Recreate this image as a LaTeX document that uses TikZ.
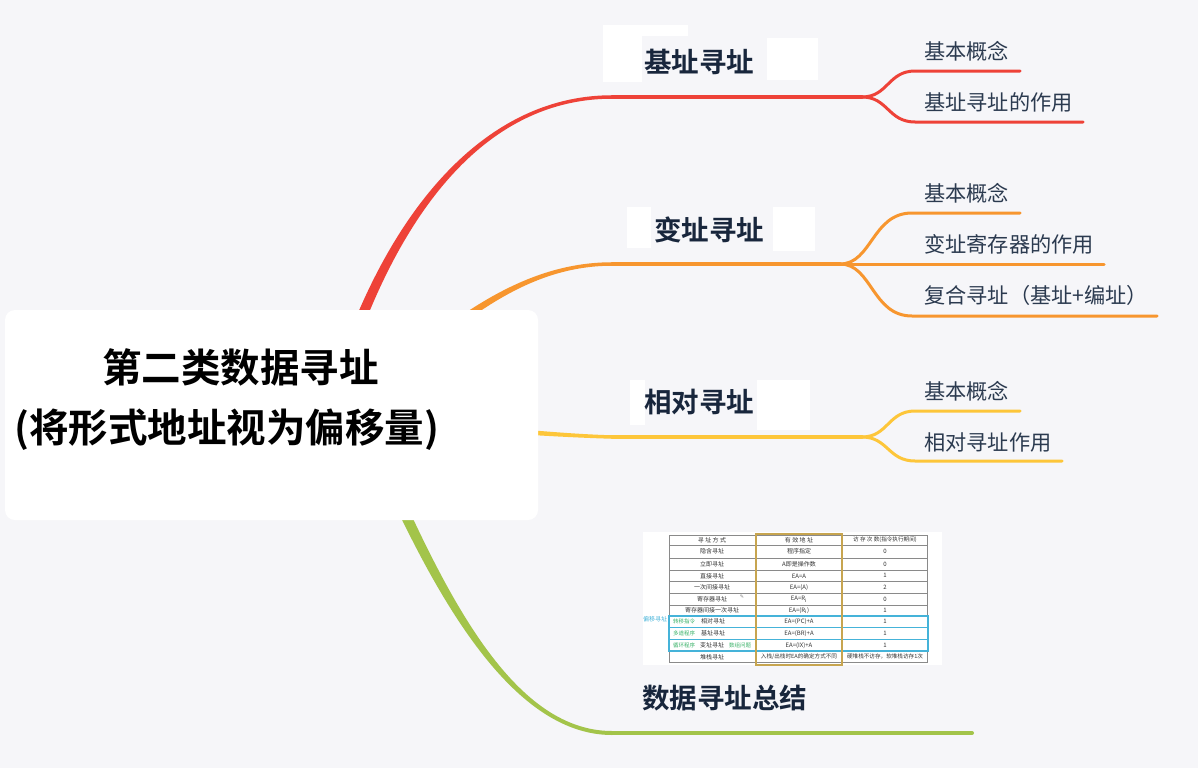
\documentclass[tikz,border=0pt]{standalone}
\usepackage{fontspec}
\setmainfont{Noto Sans CJK SC}[BoldFont={Noto Sans CJK SC Bold}]
\newfontfamily\symfont{DejaVu Sans}
\usetikzlibrary{calc}
\definecolor{bg}{HTML}{F6F6F9}
\definecolor{cred}{HTML}{EE4238}
\definecolor{corange}{HTML}{F7962F}
\definecolor{cyellow}{HTML}{FDC63A}
\definecolor{cgreen}{HTML}{A3C44A}
\definecolor{navy}{HTML}{18263C}
\definecolor{subtext}{HTML}{2B3A4F}
\definecolor{tblue}{HTML}{45B3D9}
\definecolor{tgold}{HTML}{C7A550}
\definecolor{tgreen}{HTML}{3DB36B}
\definecolor{tgrid}{HTML}{8A8A8A}
\definecolor{ttext}{HTML}{333333}
% tapered bezier: #1 colour, #2..#5 named points, #6 half width at start, #7 at end
\newcommand\mytaper[7]{\fill[#1] ($(#2)!#6!90:(#3)$) .. controls ($(#3)!#6!-90:(#2)$) and ($(#4)!#7!90:(#5)$) .. ($(#5)!#7!-90:(#4)$) -- ($(#5)!#7!90:(#4)$) .. controls ($(#4)!#7!-90:(#5)$) and ($(#3)!#6!90:(#2)$) .. ($(#2)!#6!-90:(#3)$) -- cycle;}
\begin{document}
\begin{tikzpicture}[x=1pt,y=-1pt,
  branchlabel/.style={anchor=west, inner sep=0pt, font=\fontsize{27.5}{32}\selectfont\bfseries, text=navy},
  sublabel/.style={anchor=west, inner sep=0pt, font=\fontsize{21.2}{25}\selectfont, text=subtext},
  titletext/.style={anchor=west, inner sep=0pt, font=\fontsize{39.5}{46}\selectfont\bfseries, text=black},
  mainline/.style={line width=3.5pt, line cap=round},
  subline/.style={line width=3pt, line cap=round},
  tcell/.style={inner sep=0pt, font=\fontsize{6}{7}\selectfont, text=ttext},
  tsmall/.style={inner sep=0pt, font=\fontsize{5.6}{7}\selectfont, text=ttext},
  tnote/.style={inner sep=0pt, font=\fontsize{5.5}{7}\selectfont, text=tgreen},
  patch/.style={fill=white, draw=none}]
\fill[bg] (0,0) rectangle (1198,768);
\useasboundingbox (0,0) rectangle (1198,768);

% white patches around branch labels
\fill[patch] (603,25) rectangle (688,36);
\fill[patch] (603,25) rectangle (642,82);
\fill[patch] (767,38) rectangle (818,80);
\fill[patch] (627,207) rectangle (651,248);
\fill[patch] (773,207) rectangle (815,251);
\fill[patch] (630,380) rectangle (645,425);
\fill[patch] (757,380) rectangle (810,430);

% coordinates
\coordinate (r0) at (330,410); \coordinate (r1) at (380,230); \coordinate (r2) at (475,97); \coordinate (r3) at (612,97);
\coordinate (o0) at (345,420); \coordinate (o1) at (445,325); \coordinate (o2) at (520,264); \coordinate (o3) at (612,264);
\coordinate (y0) at (345,420); \coordinate (y1) at (450,425); \coordinate (y2) at (540,435); \coordinate (y3) at (612,437);
\coordinate (g0) at (378,455); \coordinate (g1) at (438,590); \coordinate (g2) at (510,733); \coordinate (g3) at (612,733);
\coordinate (rsplit) at (862,97);
\coordinate (osplit) at (840,264);
\coordinate (ysplit) at (862,437);
\coordinate (gend) at (972,733);
\coordinate (ra) at (915,71);  \coordinate (rae) at (1020,71);
\coordinate (rb) at (915,122); \coordinate (rbe) at (1083,122);
\coordinate (oa) at (912,213); \coordinate (oae) at (1020,213);
\coordinate (obe) at (1104,264);
\coordinate (oc) at (912,316); \coordinate (oce) at (1157,316);
\coordinate (ya) at (915,411); \coordinate (yae) at (1020,411);
\coordinate (yb) at (915,461); \coordinate (ybe) at (1062,461);

% main branches
\mytaper{cred}{r0}{r1}{r2}{r3}{5.5pt}{1.75pt}
\mytaper{corange}{o0}{o1}{o2}{o3}{5pt}{1.75pt}
\mytaper{cyellow}{y0}{y1}{y2}{y3}{4pt}{1.75pt}
\mytaper{cgreen}{g0}{g1}{g2}{g3}{5.5pt}{2pt}

\draw[mainline, cred] (r3) -- (rsplit);
\draw[mainline, corange] (o3) -- (osplit);
\draw[mainline, cyellow] (y3) -- (ysplit);
\draw[line width=4pt, line cap=round, cgreen] (g3) -- (gend);

% sub branches
\draw[subline, cred] (rsplit) .. controls (888,97) and (888,71) .. (ra) -- (rae);
\draw[subline, cred] (rsplit) .. controls (888,97) and (888,122) .. (rb) -- (rbe);
\draw[subline, corange] (osplit) .. controls (872,264) and (872,213) .. (oa) -- (oae);
\draw[subline, corange] (osplit) -- (obe);
\draw[subline, corange] (osplit) .. controls (872,264) and (872,316) .. (oc) -- (oce);
\draw[subline, cyellow] (ysplit) .. controls (888,437) and (888,411) .. (ya) -- (yae);
\draw[subline, cyellow] (ysplit) .. controls (888,437) and (888,461) .. (yb) -- (ybe);

% central topic
\node[fill=white, rounded corners=10pt, minimum width=533pt, minimum height=210pt, inner sep=0pt] (center) at (271.5,415) {};
\node[titletext] (title1) at (102,367) {第二类数据寻址};
\node[titletext] (title2) at (14,430) {(将形式地址视为偏移量)};

% branch labels
\node[branchlabel] (b1) at (644,62) {基址寻址};
\node[branchlabel] (b2) at (654,230) {变址寻址};
\node[branchlabel] (b3) at (644,402) {相对寻址};
\node[branchlabel] (b4) at (642,698) {数据寻址总结};

% sub labels
\node[sublabel] (s11) at (924,51) {基本概念};
\node[sublabel] (s12) at (924,102) {基址寻址的作用};
\node[sublabel] (s21) at (924,193) {基本概念};
\node[sublabel] (s22) at (924,244) {变址寄存器的作用};
\node[sublabel] (s23) at (924,295) {复合寻址（基址+编址）};
\node[sublabel] (s31) at (924,391) {基本概念};
\node[sublabel] (s32) at (924,442) {相对寻址作用};

% summary table picture
\fill[white] (643,532) rectangle (942,665);
\foreach \yy in {535,545,558.3,570,581.7,593.3,605,616,627.3,639.3,651,662.7}
  \draw[tgrid, line width=0.6pt] (669,\yy) -- (927,\yy);
\foreach \xx in {669,756,842,927}
  \draw[tgrid, line width=0.6pt] (\xx,535) -- (\xx,662.7);
\draw[tblue, line width=0.6pt] (669,627.3) -- (928,627.3) (669,639.3) -- (928,639.3);
\draw[tblue, line width=1.2pt] (669,616) rectangle (928,651);
\draw[tgold, line width=1.3pt] (756,534) rectangle (842,665);

\node[tcell] (h1) at (712,540) {寻 址 方 式};
\node[tcell] (h2) at (799,540) {有 效 地 址};
\node[tsmall] (h3) at (885,540) {访 存 次 数(指令执行期间)};

\node[tcell] (a1) at (712,551.7) {隐含寻址};
\node[tcell] (a2) at (799,551.7) {程序指定};
\node[tcell] (a3) at (885,551.7) {0};
\node[tcell] (c1) at (712,564.2) {立即寻址};
\node[tcell] (c2) at (799,564.2) {A即是操作数};
\node[tcell] (c3) at (885,564.2) {0};
\node[tcell] (d1) at (712,575.8) {直接寻址};
\node[tcell] (d2) at (799,575.8) {EA=A};
\node[tcell] (d3) at (885,575.8) {1};
\node[tcell] (e1) at (712,587.5) {一次间接寻址};
\node[tcell] (e2) at (799,587.5) {EA=(A)};
\node[tcell] (e3) at (885,587.5) {2};
\node[tcell] (f1) at (712,599.2) {寄存器寻址};
\node[tcell, text=gray, font=\fontsize{5}{6}\selectfont\symfont] (f1p) at (742,597) {✎};
\node[tcell] (f2) at (799,599.2) {EA=R\textsubscript{i}};
\node[tcell] (f3) at (885,599.2) {0};
\node[tcell] (i1) at (712,610.5) {寄存器间接一次寻址};
\node[tcell] (i2) at (799,610.5) {EA=(R\textsubscript{i})};
\node[tcell] (i3) at (885,610.5) {1};
\node[tcell] (j1) at (713,621.7) {相对寻址};
\node[tnote] (j0) at (684,621.7) {转移指令};
\node[tcell] (j2) at (799,621.7) {EA=(PC)+A};
\node[tcell] (j3) at (885,621.7) {1};
\node[tcell] (k1) at (713,633.3) {基址寻址};
\node[tnote] (k0) at (684,633.3) {多道程序};
\node[tcell] (k2) at (799,633.3) {EA=(BR)+A};
\node[tcell] (k3) at (885,633.3) {1};
\node[tcell] (l1) at (712,645.2) {变址寻址};
\node[tnote] (l0) at (684,645.2) {循环程序};
\node[tnote] (l4) at (740,645.2) {数组问题};
\node[tcell] (l2) at (799,645.2) {EA=(IX)+A};
\node[tcell] (l3) at (885,645.2) {1};
\node[tcell] (m1) at (712,656.8) {堆栈寻址};
\node[tsmall] (m2) at (799,656.8) {入栈/出栈时EA的确定方式不同};
\node[tsmall] (m3) at (885,656.8) {硬堆栈不访存，软堆栈访存1次};
\node[inner sep=0pt, font=\fontsize{6}{7}\selectfont, text=tblue] (pianyi) at (655,619) {偏移寻址};
\end{tikzpicture}
\end{document}
